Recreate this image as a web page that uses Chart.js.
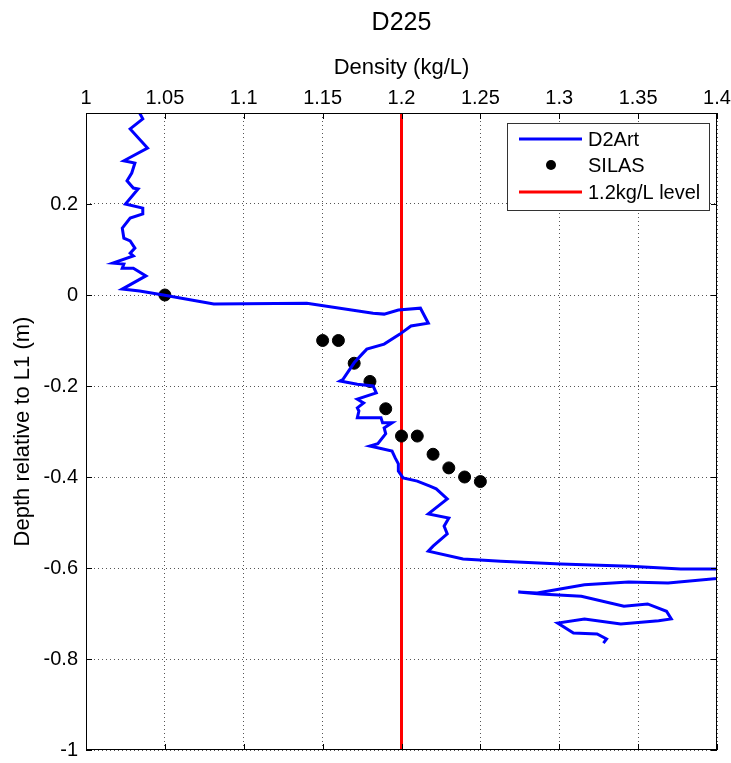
<!DOCTYPE html>
<html>
<head>
<meta charset="utf-8">
<script src="https://cdn.jsdelivr.net/npm/chart.js@4/dist/chart.umd.min.js"></script>
<style>
  html, body { margin: 0; padding: 0; background: #fff; }
  #wrap { width: 731px; height: 763px; }
</style>
</head>
<body>
<div id="wrap"><canvas id="profile"></canvas></div>
<script>
// D2Art density profile (kg/L) against depth relative to L1 (m)
const artDensity = [
  1.034, 1.036, 1.028, 1.039, 1.024, 1.031, 1.029, 1.026, 1.030, 1.033,
  1.025, 1.036, 1.036, 1.028, 1.023, 1.024, 1.028, 1.031, 1.028, 1.030,
  1.017, 1.024, 1.023, 1.030, 1.038, 1.023, 1.034, 1.049, 1.081, 1.140,
  1.182, 1.189, 1.198, 1.212, 1.217, 1.206, 1.199, 1.189, 1.178, 1.175,
  1.170, 1.163, 1.161, 1.172, 1.182, 1.184, 1.172, 1.176, 1.172, 1.173,
  1.172, 1.187, 1.188, 1.194, 1.189, 1.190, 1.185, 1.180, 1.194, 1.196,
  1.198, 1.198, 1.201, 1.210, 1.218, 1.222, 1.229, 1.217, 1.230, 1.227,
  1.229, 1.220, 1.217, 1.239, 1.263, 1.301, 1.345, 1.377, 1.430, 1.430,
  1.369, 1.344, 1.316, 1.286, 1.274, 1.288, 1.314, 1.341, 1.356, 1.368,
  1.371, 1.363, 1.339, 1.316, 1.299, 1.309, 1.324, 1.330, 1.328
];
const artDepth = [
  0.400, 0.387, 0.365, 0.323, 0.295, 0.290, 0.268, 0.251, 0.235, 0.233,
  0.200, 0.191, 0.178, 0.169, 0.147, 0.125, 0.119, 0.103, 0.092, 0.086,
  0.070, 0.068, 0.059, 0.059, 0.042, 0.013, 0.009, 0.000, -0.020, -0.018,
  -0.040, -0.042, -0.033, -0.029, -0.062, -0.068, -0.086, -0.108, -0.119, -0.130,
  -0.149, -0.185, -0.189, -0.196, -0.200, -0.215, -0.229, -0.237, -0.248, -0.255,
  -0.270, -0.270, -0.281, -0.281, -0.292, -0.305, -0.327, -0.332, -0.343, -0.358,
  -0.371, -0.387, -0.402, -0.409, -0.420, -0.426, -0.448, -0.481, -0.490, -0.508,
  -0.525, -0.552, -0.563, -0.580, -0.585, -0.591, -0.596, -0.602, -0.603, -0.613,
  -0.633, -0.631, -0.637, -0.655, -0.653, -0.657, -0.662, -0.684, -0.679, -0.695,
  -0.712, -0.716, -0.723, -0.712, -0.721, -0.743, -0.745, -0.756, -0.765
];

// SILAS samples
const silasDensity = [1.05, 1.15, 1.16, 1.17, 1.18, 1.19, 1.20, 1.21, 1.22, 1.23, 1.24, 1.25];
const silasDepth   = [0.00, -0.10, -0.10, -0.15, -0.19, -0.25, -0.31, -0.31, -0.35, -0.38, -0.40, -0.41];

// reference level
const levelDensity = [1.2, 1.2];
const levelDepth   = [-1, 0.4];

const seriesNames = ['D2Art', 'SILAS', '1.2kg/L level'];

const xTicks = { min: 1, max: 1.4, step: 0.05 };
const yTicks = { min: -1, max: 0.4, step: 0.2 };

const zip = (xs, ys) => xs.map((x, i) => ({ x: x, y: ys[i] }));
const fmt = v => String(+v.toFixed(2));

const FONT = '"Liberation Sans", Arial, sans-serif';

// box round the axes, inward ticks, and a MATLAB style legend
const framePlugin = {
  id: 'frame',
  afterDatasetsDraw(chart) {
    const { ctx, chartArea: a, scales } = chart;
    ctx.save();
    ctx.strokeStyle = '#000';
    ctx.lineWidth = 1;
    ctx.strokeRect(a.left + 0.5, a.top + 0.5, a.right - a.left - 1, a.bottom - a.top - 1);

    const tl = 6;
    ctx.beginPath();
    scales.x.ticks.forEach(t => {
      const px = Math.round(scales.x.getPixelForValue(t.value)) + 0.5;
      ctx.moveTo(px, a.top); ctx.lineTo(px, a.top + tl);
      ctx.moveTo(px, a.bottom); ctx.lineTo(px, a.bottom - tl);
    });
    scales.y.ticks.forEach(t => {
      const py = Math.round(scales.y.getPixelForValue(t.value)) + 0.5;
      ctx.moveTo(a.left, py); ctx.lineTo(a.left + tl, py);
      ctx.moveTo(a.right, py); ctx.lineTo(a.right - tl, py);
    });
    ctx.stroke();

    // legend box
    const w = 202, h = 87;
    const bx = a.right - 8 - w, by = a.top + 10;
    ctx.fillStyle = '#fff';
    ctx.fillRect(bx, by, w, h);
    ctx.strokeStyle = '#333';
    ctx.strokeRect(bx + 0.5, by + 0.5, w, h);
    ctx.font = '20px ' + FONT;
    ctx.textBaseline = 'middle';
    const rows = [16, 42, 69];
    chart.data.datasets.forEach((ds, i) => {
      const ry = by + rows[i];
      if (ds.showLine) {
        ctx.strokeStyle = ds.borderColor;
        ctx.lineWidth = 3;
        ctx.beginPath();
        ctx.moveTo(bx + 12, ry);
        ctx.lineTo(bx + 75, ry);
        ctx.stroke();
      } else {
        ctx.fillStyle = ds.backgroundColor;
        ctx.beginPath();
        ctx.arc(bx + 44, ry, 5, 0, Math.PI * 2);
        ctx.fill();
      }
      ctx.fillStyle = '#000';
      ctx.fillText(ds.label, bx + 81, ry + 1);
    });
    ctx.restore();
  }
};

const gridStyle = {
  color: '#555',
  lineWidth: 1,
  drawTicks: false
};

new Chart(document.getElementById('profile'), {
  type: 'scatter',
  data: {
    datasets: [
      {
        label: seriesNames[0],
        data: zip(artDensity, artDepth),
        showLine: true,
        borderColor: '#0000ff',
        backgroundColor: '#0000ff',
        borderWidth: 3,
        pointRadius: 0,
        tension: 0
      },
      {
        label: seriesNames[1],
        data: zip(silasDensity, silasDepth),
        showLine: false,
        backgroundColor: '#000',
        borderColor: '#000',
        pointRadius: 6,
        pointHoverRadius: 6
      },
      {
        label: seriesNames[2],
        data: zip(levelDensity, levelDepth),
        showLine: true,
        borderColor: '#ff0000',
        backgroundColor: '#ff0000',
        borderWidth: 3,
        pointRadius: 0
      }
    ]
  },
  options: {
    responsive: true,
    maintainAspectRatio: false,
    animation: false,
    layout: { padding: { left: 0, right: 14, top: 0, bottom: 13 } },
    plugins: {
      legend: { display: false },
      tooltip: { enabled: false },
      title: {
        display: true,
        fullSize: false,
        text: 'D225',
        color: '#000',
        font: { family: FONT, size: 25, weight: 'normal' },
        padding: { top: 8, bottom: 0 }
      }
    },
    scales: {
      x: {
        type: 'linear',
        position: 'top',
        min: xTicks.min,
        max: xTicks.max,
        grid: gridStyle,
        border: { display: false, dash: [1, 3] },
        ticks: {
          stepSize: xTicks.step,
          color: '#000',
          padding: 3,
          font: { family: FONT, size: 20 },
          callback: v => fmt(v)
        },
        title: {
          display: true,
          text: 'Density (kg/L)',
          color: '#000',
          font: { family: FONT, size: 22 },
          padding: { top: 17, bottom: 0 }
        },
        afterFit: s => {
          s.height = 75;
          s.paddingLeft = 0;
          s.paddingRight = 0;
        }
      },
      y: {
        type: 'linear',
        min: yTicks.min,
        max: yTicks.max,
        grid: gridStyle,
        border: { display: false, dash: [1, 3] },
        ticks: {
          stepSize: yTicks.step,
          color: '#000',
          padding: 8,
          font: { family: FONT, size: 20 },
          callback: v => (v > 0.35 ? '' : fmt(v))
        },
        title: {
          display: true,
          text: 'Depth relative to L1 (m)',
          color: '#000',
          font: { family: FONT, size: 22 },
          padding: { top: 10, bottom: 0 }
        },
        afterFit: s => {
          s.width = 86;
          s.paddingTop = 0;
          s.paddingBottom = 0;
        }
      }
    }
  },
  plugins: [framePlugin]
});
</script>
</body>
</html>
